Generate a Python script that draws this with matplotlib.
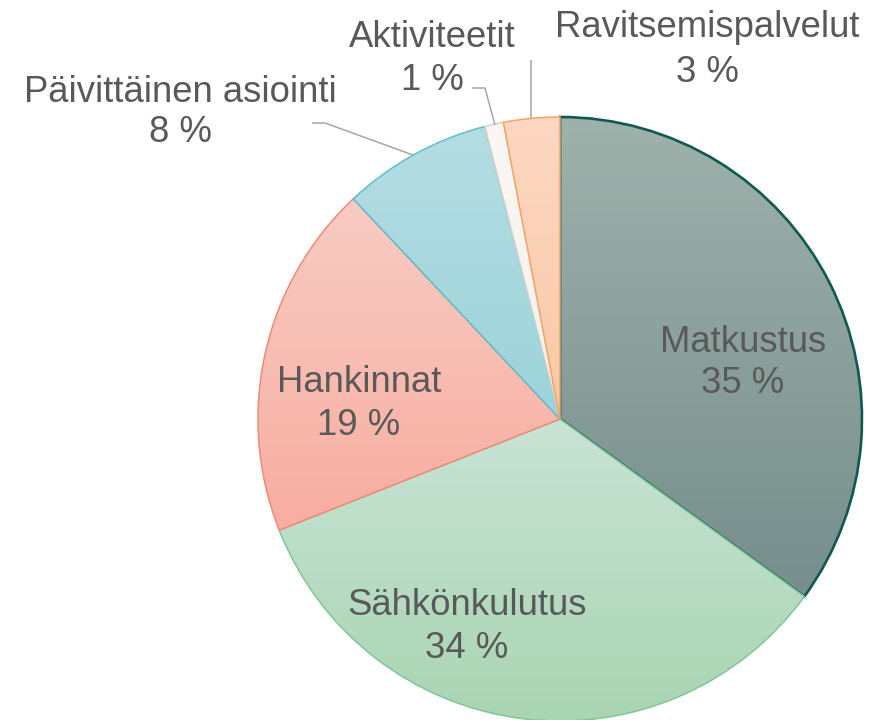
import numpy as np
import matplotlib
matplotlib.use('Agg')
import matplotlib.pyplot as plt
from matplotlib.colors import to_rgb

# ---- data ----
categories = ['Matkustus', 'Sähkönkulutus', 'Hankinnat',
              'Päivittäinen asiointi', 'Aktiviteetit', 'Ravitsemispalvelut']
values = [35, 34, 19, 8, 1, 3]

# ---- styles ----
top_colors = ['#9FB1AB', '#C9E3D5', '#F7CCC3', '#B4DDE3', '#FAF7F4', '#FDD7C2']
bottom_colors = ['#768E8C', '#A9D5B2', '#F9ADA1', '#9CD3DA', '#F5F0EC', '#F9C9A6']
edge_colors = ['#0E5A50', '#80C59B', '#EF8A78', '#5DBFCA', '#D8D3CE', '#F2A465']
edge_widths = [1.9, 1.1, 1.1, 1.1, 1.1, 1.1]

# label placement (pixels: x centre, baseline of line 1, baseline of line 2)
label_pos = [(743, 352, 393), (467, 615, 658), (359, 392, 435),
             (180, 102, 142), (432, 47, 90), (707, 37, 82)]
# leader lines (pixels)
leaders = {3: ([312, 325, 413], [123, 123, 155]),
           4: ([472, 485, 495], [88, 88, 125]),
           5: ([531, 531], [60, 118])}

W, H = 881, 720
fig = plt.figure(figsize=(W / 100, H / 100), dpi=100)
ax = fig.add_axes([0, 0, 1, 1])
ax.set_xlim(0, W)
ax.set_ylim(H, 0)
ax.axis('off')

cx, cy, r = 560, 419, 302
wedges, _ = ax.pie(values, center=(cx, cy), radius=r, startangle=-90,
                   counterclock=True, normalize=True, frame=True)

grad = np.linspace(0, 1, 256)[:, None]
for i, w in enumerate(wedges):
    w.set_facecolor('none')
    w.set_edgecolor(edge_colors[i])
    w.set_linewidth(edge_widths[i])
    w.set_zorder(2 + 2 * i)
    ext = w.get_path().get_extents()
    c0 = np.array(to_rgb(top_colors[i]))
    c1 = np.array(to_rgb(bottom_colors[i]))
    img = c0[None, None, :] * (1 - grad[:, :, None]) + c1[None, None, :] * grad[:, :, None]
    im = ax.imshow(img, extent=(ext.x0, ext.x1, ext.y1, ext.y0), origin='upper',
                   aspect='auto', zorder=1 + 2 * i, interpolation='bilinear')
    im.set_clip_path(w)

for i, (xs, ys) in leaders.items():
    ax.plot(xs, ys, color='#A6A6A6', lw=1.1, zorder=20, solid_capstyle='butt')

font = dict(family=['Liberation Sans', 'DejaVu Sans'], size=26.3, color='#595959')
for i, cat in enumerate(categories):
    x, b1, b2 = label_pos[i]
    ax.text(x, b1, cat, ha='center', va='baseline', zorder=30, **font)
    ax.text(x, b2, f'{values[i]} %', ha='center', va='baseline', zorder=30, **font)

ax.set_xlim(0, W)
ax.set_ylim(H, 0)
ax.set_aspect('auto')
fig.savefig('out.png', dpi=100, facecolor='white')
